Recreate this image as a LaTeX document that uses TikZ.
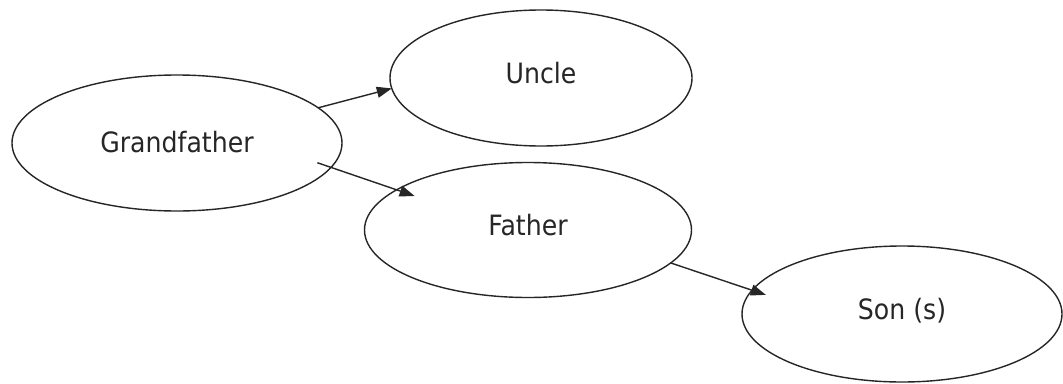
\documentclass[tikz,border=0pt]{standalone}
\usepackage{fontspec}
\setmainfont{DejaVu Sans}[FakeStretch=0.9]
\usetikzlibrary{shapes.geometric,arrows.meta}
\begin{document}
\begin{tikzpicture}[x=1pt,y=-1pt,
  oval/.style={ellipse,draw=black!85,line width=1.4pt,fill=white,inner sep=0pt,outer sep=0pt,
    font=\fontsize{28}{30}\selectfont,text=black!85,text height=20pt,text depth=10pt},
  link/.style={draw=black!85,line width=1.4pt,-{Triangle[length=15pt,width=11pt]}}]
\useasboundingbox[fill=white] (0,0) rectangle (1063,383);
\node[oval,minimum width=330pt,minimum height=136pt,text depth=1pt] (gf) at (177,143) {Grandfather};
\node[oval,minimum width=302pt,minimum height=136pt] (uncle) at (541,78) {Uncle};
\node[oval,minimum width=327pt,minimum height=135pt] (father) at (528,230) {Father};
\node[oval,minimum width=320pt,minimum height=136pt] (son) at (902,314) {Son (s)};
\draw[link] (gf.14.8) -- (uncle.184.2);
\draw[link,shorten <=-14.4pt,shorten >=-19pt] (gf.-9.2) -- (father.163.5);
\draw[link,shorten >=-14.5pt] (father.-13.8) -- (son.171.2);
\end{tikzpicture}
\end{document}
